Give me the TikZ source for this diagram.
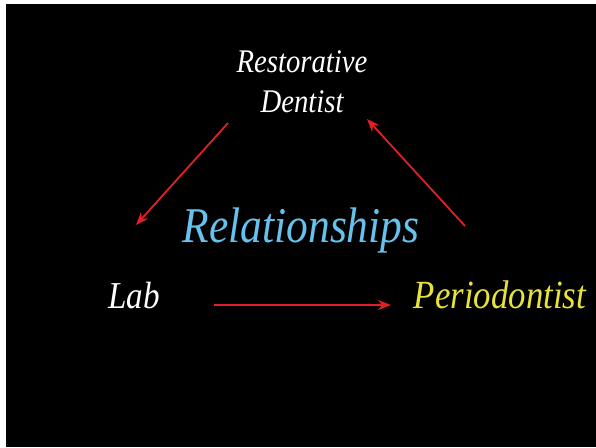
\documentclass[tikz,border=0pt]{standalone}
\usepackage{fontspec}
\setmainfont{Liberation Serif}
\newfontfamily\slidefont[FakeStretch=0.87]{Liberation Serif}
\usetikzlibrary{arrows.meta}
\definecolor{relblue}{RGB}{102,194,236}
\definecolor{periyellow}{RGB}{232,227,58}
\definecolor{arrowred}{RGB}{224,32,36}
\begin{document}
\begin{tikzpicture}[x=1pt,y=-1pt]
	\tikzstyle{every node}+=[inner sep=0pt, anchor=base, font=\slidefont\itshape]
	\tikzstyle{rel}=[draw=arrowred, line width=1.8pt, -{Stealth[length=13pt,width=10pt]}]
	\fill [white] (0,0) rectangle (596,447);
	\fill [black] (6,4) rectangle (596,447);
	\node [white, font=\slidefont\itshape\fontsize{33}{33}\selectfont] (rest) at (302,72) {Restorative};
	\node [white, font=\slidefont\itshape\fontsize{33}{33}\selectfont] (dent) at (302,112) {Dentist};
	\node [relblue, font=\slidefont\itshape\fontsize{50}{50}\selectfont] (relat) at (301,242) {Relationships};
	\node [white, font=\slidefont\itshape\fontsize{38}{38}\selectfont] (lab) at (134,308) {Lab};
	\node [periyellow, font=\slidefont\itshape\fontsize{40}{40}\selectfont] (perio) at (500,308) {Periodontist};
	\coordinate (dent-out) at (228,123);
	\coordinate (lab-in) at (136,225);
	\coordinate (lab-out) at (214,305);
	\coordinate (perio-in) at (391,305);
	\coordinate (perio-out) at (465,226);
	\coordinate (dent-in) at (367,119);
	\draw [rel] (dent-out) -- (lab-in);
	\draw [rel] (lab-out) -- (perio-in);
	\draw [rel] (perio-out) -- (dent-in);
\end{tikzpicture}
\end{document}
